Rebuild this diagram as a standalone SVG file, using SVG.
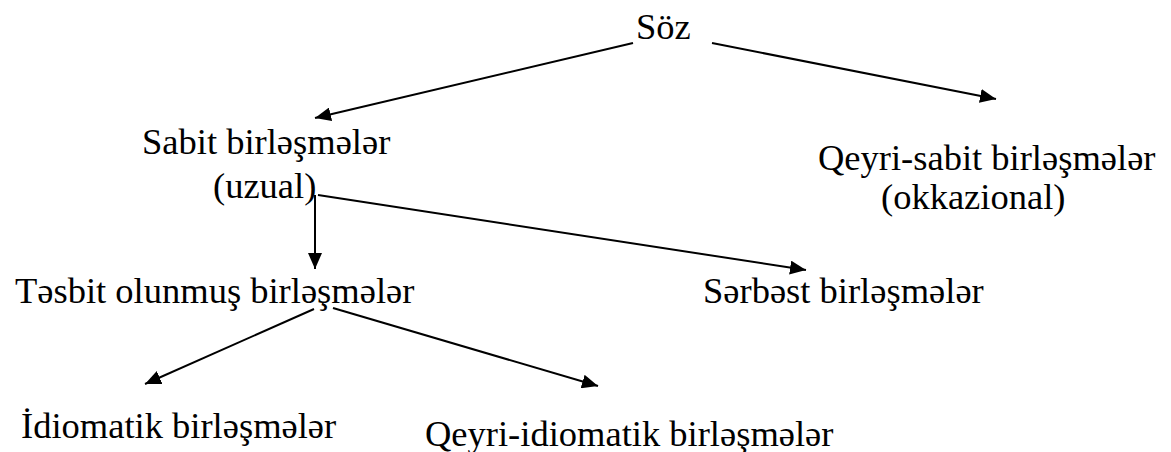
<svg xmlns="http://www.w3.org/2000/svg" width="1171" height="452" viewBox="0 0 1171 452">
<style>
.c line{stroke:#000;stroke-width:2;fill:none}
</style>
<defs>
<marker id="a" markerWidth="16" markerHeight="14" refX="16" refY="7" orient="auto" markerUnits="userSpaceOnUse" viewBox="0 0 16 14">
<path d="M0,0 L16,7 L0,14 Z" fill="#000"/>
</marker>
</defs>
<rect width="1171" height="452" fill="#fff"/>
<g class="c" id="connectors">
<line x1="633" y1="43" x2="315" y2="118" marker-end="url(#a)"/>
<line x1="712" y1="43" x2="996" y2="99" marker-end="url(#a)"/>
<line x1="315" y1="195" x2="315" y2="269" marker-end="url(#a)"/>
<line x1="318" y1="195" x2="806" y2="270" marker-end="url(#a)"/>
<line x1="314" y1="309" x2="145" y2="384" marker-end="url(#a)"/>
<line x1="333" y1="308" x2="598" y2="386" marker-end="url(#a)"/>
</g>
<g font-family="'Liberation Serif', serif" font-size="36.5" fill="#000">
<g id="n-soz"><text x="636" y="39">Söz</text></g>
<g id="n-sabit"><text x="142" y="154">Sabit birləşmələr</text><text x="213" y="198">(uzual)</text></g>
<g id="n-qeyri-sabit"><text x="818" y="170">Qeyri-sabit birləşmələr</text><text x="881" y="209">(okkazional)</text></g>
<g id="n-tesbit"><text x="15" y="303">Təsbit olunmuş birləşmələr</text></g>
<g id="n-serbest"><text x="703" y="303">Sərbəst birləşmələr</text></g>
<g id="n-idiomatik"><text x="21" y="438">İdiomatik birləşmələr</text></g>
<g id="n-qeyri-idiomatik"><text x="425" y="446">Qeyri-idiomatik birləşmələr</text></g>
</g>
</svg>
